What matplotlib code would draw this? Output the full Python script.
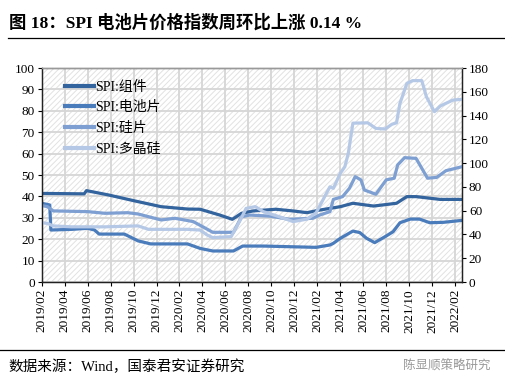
import matplotlib
matplotlib.use("Agg")
import matplotlib.pyplot as plt
import numpy as np

plt.rcParams['font.family'] = ['Liberation Serif', 'Noto Sans CJK SC']
plt.rcParams['hatch.color'] = '#e2e2e2'
plt.rcParams['hatch.linewidth'] = 0.7

# x = months since 2019/02
tick_labels = ['2019/02', '2019/04', '2019/06', '2019/08', '2019/10', '2019/12',
               '2020/02', '2020/04', '2020/06', '2020/08', '2020/10', '2020/12',
               '2021/02', '2021/04', '2021/06', '2021/08', '2021/10', '2021/12', '2022/02']

# SPI:组件 (left axis)
mod_x = [0, 3.7, 3.9, 5.8, 8.1, 10.4, 12.7, 13.8, 15.5, 16.6, 17.4, 18.4, 20.4, 21.9,
         23.1, 24.2, 25.1, 26.0, 27.1, 28.9, 30.9, 31.8, 32.6, 34.7, 36.6]
mod_y = [41.4, 41.2, 42.7, 40.7, 37.9, 35.2, 34.1, 34.0, 31.3, 29.3, 32.1, 33.2, 34.0, 33.2,
         32.4, 33.6, 34.4, 35.2, 36.8, 35.5, 36.8, 39.9, 39.9, 38.6, 38.6]

# SPI:电池片 (left axis)
cell_x = [0, 0.7, 0.8, 2.6, 4.0, 4.6, 5.0, 7.2, 8.4, 9.5, 12.7, 13.8, 14.9, 16.7, 17.5,
          19.3, 21.6, 23.9, 25.1, 25.4, 26.0, 27.1, 27.7, 28.3, 29.0, 30.0, 30.6, 31.2,
          32.1, 32.9, 33.8, 35.0, 36.6]
cell_y = [36.8, 36.0, 24.3, 24.6, 25.1, 24.3, 22.4, 22.4, 19.2, 17.8, 17.8, 15.7, 14.5, 14.5, 16.8,
          16.8, 16.5, 16.2, 17.3, 18.1, 20.4, 23.8, 23.1, 20.4, 18.4, 21.5, 23.5, 27.7,
          29.4, 29.4, 27.7, 27.9, 28.8]

# SPI:硅片 (right axis)
wafer_x = [0, 0.5, 1.0, 4.0, 5.5, 7.5, 8.4, 10.4, 11.6, 12.7, 13.2, 14.1, 14.9, 16.7, 17.4,
           18.1, 19.9, 21.6, 23.6, 24.2, 25.1, 25.4, 26.2, 26.8, 27.3, 27.8, 28.1, 29.1,
           30.0, 30.7, 31.0, 31.6, 32.6, 33.6, 34.4, 35.2, 36.6]
wafer_y = [64.3, 63.4, 59.8, 59.2, 57.8, 58.3, 57.2, 52.2, 53.6, 51.7, 50.8, 46.1, 41.8, 41.8, 54.9,
           56.3, 55.4, 52.7, 53.6, 56.3, 59.2, 69.5, 71.8, 78.8, 88.6, 85.9, 77.4, 73.8,
           85.9, 87.3, 98.5, 104.6, 104.0, 87.3, 88.0, 93.6, 97.0]

# SPI:多晶硅 (right axis)
poly_x = [0, 0.5, 1.0, 2.6, 5.5, 8.4, 9.3, 12.7, 13.8, 14.4, 14.9, 16.5, 17.3, 17.8, 18.6,
          19.3, 20.7, 21.9, 23.1, 23.9, 25.1, 25.4, 26.0, 26.4, 26.7, 27.1, 28.4, 29.1,
          29.9, 30.5, 30.9, 31.2, 31.8, 32.3, 33.1, 33.5, 34.2, 34.7, 35.8, 36.6]
poly_y = [49.9, 49.3, 47.2, 46.4, 46.4, 47.2, 44.3, 44.3, 43.7, 39.6, 37.3, 38.2, 52.2, 61.9, 63.4,
          59.2, 54.9, 50.8, 52.9, 58.3, 80.1, 78.8, 91.4, 97.0, 108.2, 133.6, 133.9, 129.2,
          128.7, 132.7, 133.9, 150.3, 167.0, 169.4, 169.4, 155.9, 143.3, 148.0, 153.0, 153.7]

c_mod = '#34649e'
c_cell = '#4a7bbb'
c_wafer = '#7d9fd2'
c_poly = '#b5c8e6'

fig = plt.figure(figsize=(5.06, 3.86), dpi=100)
ax = fig.add_axes([0.0824, 0.2694, 0.8306, 0.5544])
ax2 = ax.twinx()

ax.patch.set_facecolor('white')
ax.patch.set_hatch('//////')
ax.patch.set_edgecolor('#e2e2e2')

l1, = ax.plot(mod_x, mod_y, color=c_mod, lw=2.3, label='SPI:组件')
l2, = ax.plot(cell_x, cell_y, color=c_cell, lw=2.3, label='SPI:电池片')
l3, = ax2.plot(wafer_x, wafer_y, color=c_wafer, lw=2.3, label='SPI:硅片')
l4, = ax2.plot(poly_x, poly_y, color=c_poly, lw=2.3, label='SPI:多晶硅')

ax.set_xlim(0, 36.6)
ax.set_ylim(0, 100)
ax2.set_ylim(0, 180)
ax.set_yticks(np.arange(0, 101, 10))
ax2.set_yticks(np.arange(0, 181, 20))
ax.set_xticks(np.arange(0, 37, 2))
ax.set_xticklabels(tick_labels, rotation=90)
ax.grid(True, color='#d6d6d6', lw=1.3)
ax.set_axisbelow(True)

for a in (ax, ax2):
    a.tick_params(labelsize=9.5, length=3, width=0.8, direction='out', pad=2)
    for s in a.spines.values():
        s.set_color('#222222')
        s.set_linewidth(0.9)
ax2.spines['top'].set_color('#999999')

leg = ax.legend(handles=[l1, l2, l3, l4], loc='upper left', frameon=False,
                fontsize=10, handlelength=2.1, handletextpad=0.1, labelspacing=0.55,
                bbox_to_anchor=(0.025, 1.0))
for h in leg.get_lines():
    h.set_linewidth(3)

fig.text(0.018, 0.94, '图 18：SPI 电池片价格指数周环比上涨 0.14 %', fontsize=12.5,
         fontweight='bold', ha='left', va='center')
fig.add_artist(plt.Line2D([0.015, 0.998], [0.902, 0.902], color='black', lw=0.9))
fig.add_artist(plt.Line2D([0.0, 1.0], [0.093, 0.093], color='black', lw=0.9))
fig.text(0.016, 0.05, '数据来源：Wind，国泰君安证券研究', fontsize=10.5, ha='left', va='center')
fig.text(0.97, 0.05, '陈显顺策略研究', fontsize=9, color='#999999', ha='right', va='center')

fig.savefig('out.png', dpi=100)
